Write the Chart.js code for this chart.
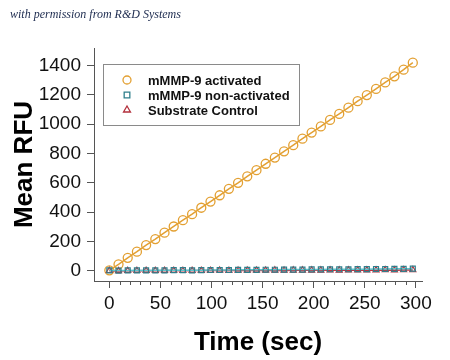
<!DOCTYPE html>
<html>
<head>
<meta charset="utf-8">
<script src="https://cdn.jsdelivr.net/npm/chart.js@4.4.1/dist/chart.umd.min.js"></script>
<style>
  body { margin: 0; background: #fff; }
  #wrap { position: relative; width: 450px; height: 360px; }
  #credit { position: absolute; left: 10px; top: 7px; font: italic 12px "Liberation Serif", serif; color: #1c2a4e; }
</style>
</head>
<body>
<div id="wrap">
  <canvas id="chart" width="450" height="360"></canvas>
  <div id="credit">with permission from R&amp;D Systems</div>
</div>
<script>
  // readings every 9 s
  const times = [0, 9, 18, 27, 36, 45, 54, 63, 72, 81, 90, 99, 108, 117, 126, 135, 144,
    153, 162, 171, 180, 189, 198, 207, 216, 225, 234, 243, 252, 261, 270, 279, 288, 297];
  const activated = [3, 44, 88, 130, 175, 216, 260, 302, 345, 386, 430, 472, 515, 559, 600, 644,
    686, 730, 772, 815, 857, 901, 943, 985, 1029, 1070, 1113, 1157, 1199, 1241, 1285, 1327, 1372, 1420];
  const nonActivated = [2, 1, 2, 3, 2, 3, 3, 4, 4, 3, 4, 5, 5, 5, 6, 6, 6, 7, 7, 8, 8, 8, 9, 9,
    10, 10, 10, 11, 11, 12, 12, 13, 13, 14];
  const substrate = [0, -1, 0, 0, 1, 0, 1, 1, 0, 1, 1, 1, 2, 1, 2, 2, 2, 2, 3, 2, 3, 3, 3, 3,
    4, 3, 4, 4, 4, 4, 5, 4, 5, 5];
  const seriesNames = ["mMMP-9 activated", "mMMP-9 non-activated", "Substrate Control"];
  const xTicks = [0, 50, 100, 150, 200, 250, 300];
  const yTicks = [0, 200, 400, 600, 800, 1000, 1200, 1400];

  const ORANGE = "#e3a032";
  const TEAL = "#2f7f8c";
  const RED = "#b3303c";

  function pts(vals) {
    return vals.map((v, i) => ({ x: times[i], y: v }));
  }

  // minor ticks on x axis + legend box
  const extras = {
    id: "extras",
    afterDraw(chart) {
      const ctx = chart.ctx;
      const xs = chart.scales.x;
      const y0 = xs.top;
      ctx.save();
      ctx.strokeStyle = "#555";
      ctx.lineWidth = 1;
      for (let t = 10; t <= 300; t += 10) {
        if (t % 50 === 0) continue;
        const px = Math.round(xs.getPixelForValue(t)) + 0.5;
        ctx.beginPath();
        ctx.moveTo(px, y0);
        ctx.lineTo(px, y0 + 4);
        ctx.stroke();
      }

      // legend
      ctx.fillStyle = "#fff";
      ctx.fillRect(103.5, 64.5, 196, 61);
      ctx.strokeStyle = "#8a8a8a";
      ctx.strokeRect(103.5, 64.5, 196, 61);
      const rows = [80, 95, 110];
      const styles = ["circle", "rect", "triangle"];
      const colors = [ORANGE, TEAL, RED];
      ctx.font = "bold 13px 'Liberation Sans', Arial, sans-serif";
      ctx.textBaseline = "middle";
      rows.forEach((ry, i) => {
        ctx.strokeStyle = colors[i];
        ctx.fillStyle = "rgba(0,0,0,0)";
        ctx.lineWidth = 1.3;
        Chart.helpers.drawPoint(ctx, { pointStyle: styles[i], radius: 4, rotation: 0, borderWidth: 1.3 }, 127, ry);
        ctx.fillStyle = "#111";
        ctx.fillText(seriesNames[i], 148, ry + 1);
      });
      ctx.restore();
    }
  };

  new Chart(document.getElementById("chart"), {
    type: "scatter",
    data: {
      datasets: [
        {
          label: seriesNames[1],
          data: pts(nonActivated),
          showLine: true,
          borderColor: "#5fc3cc",
          borderWidth: 1.5,
          pointStyle: "rect",
          pointRadius: 3.5,
          pointBorderColor: TEAL,
          pointBorderWidth: 1.2,
          pointBackgroundColor: "rgba(0,0,0,0)"
        },
        {
          label: seriesNames[2],
          data: pts(substrate),
          showLine: true,
          borderColor: "#c23240",
          borderWidth: 1.5,
          pointStyle: "triangle",
          pointRadius: 3.5,
          pointBorderColor: RED,
          pointBorderWidth: 1.2,
          pointBackgroundColor: "rgba(0,0,0,0)"
        },
        {
          label: seriesNames[0],
          data: pts(activated),
          showLine: true,
          borderColor: ORANGE,
          borderWidth: 1.5,
          pointStyle: "circle",
          pointRadius: 4.5,
          pointBorderColor: ORANGE,
          pointBorderWidth: 1.3,
          pointBackgroundColor: "rgba(0,0,0,0)"
        }
      ]
    },
    options: {
      responsive: false,
      animation: false,
      devicePixelRatio: 1,
      layout: { padding: { left: 0, right: 28, top: 48, bottom: 0 } },
      plugins: { legend: { display: false }, tooltip: { enabled: false } },
      scales: {
        x: {
          type: "linear",
          min: -15,
          max: 306,
          afterFit(s) { s.height = 79; },
          afterBuildTicks(s) { s.ticks = xTicks.map(v => ({ value: v })); },
          grid: { drawOnChartArea: false, tickLength: 7, tickColor: "#555" },
          border: { color: "#555", width: 1 },
          ticks: {
            padding: 4,
            color: "#111",
            callback: v => String(v),
            font: { family: "'Liberation Sans', Arial, sans-serif", size: 19 }
          },
          title: {
            display: true,
            text: "Time (sec)",
            color: "#000",
            padding: { top: 0, bottom: 2 },
            font: { family: "'Liberation Sans', Arial, sans-serif", size: 26, weight: "bold" }
          }
        },
        y: {
          min: -70,
          max: 1520,
          afterFit(s) { s.width = 94; },
          afterBuildTicks(s) { s.ticks = yTicks.map(v => ({ value: v })); },
          grid: { drawOnChartArea: false, tickLength: 7, tickColor: "#555" },
          border: { color: "#555", width: 1 },
          ticks: {
            padding: 6,
            color: "#111",
            callback: v => String(v),
            font: { family: "'Liberation Sans', Arial, sans-serif", size: 19 }
          },
          title: {
            display: true,
            text: "Mean RFU",
            color: "#000",
            padding: { top: 9, bottom: 0 },
            font: { family: "'Liberation Sans', Arial, sans-serif", size: 26, weight: "bold" }
          }
        }
      }
    },
    plugins: [extras]
  });
</script>
</body>
</html>
